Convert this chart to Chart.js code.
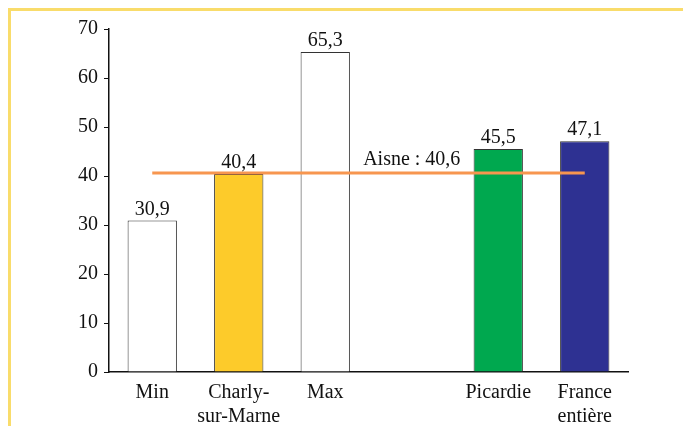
<!DOCTYPE html>
<html>
<head>
<meta charset="utf-8">
<script src="https://cdn.jsdelivr.net/npm/chart.js@4/dist/chart.umd.min.js"></script>
<style>
  html, body { margin: 0; padding: 0; background: #fff; }
  #frame {
    position: absolute; left: 8px; top: 8px; right: 0; bottom: 0;
    border-top: 3px solid #F9DC6B; border-left: 3px solid #F9DC6B;
  }
  #wrap { position: absolute; left: 0; top: 0; width: 683px; height: 426px; }
</style>
</head>
<body>
<div id="frame"></div>
<div id="wrap"><canvas id="c" width="683" height="426"></canvas></div>
<script>
// Categories (empty slot separates the commune figures from the regional ones)
const categories = ['Min', ['Charly-', 'sur-Marne'], 'Max', '', 'Picardie', ['France', 'entière']];
const values = [30.9, 40.4, 65.3, null, 45.5, 47.1];
const barColors = ['#FFFFFF', '#FDCB2A', '#FFFFFF', '#FFFFFF', '#00A84F', '#2E3192'];
const aisneLabel = 'Aisne';
const aisneValue = 40.6;
const yTicks = [0, 10, 20, 30, 40, 50, 60, 70];

const fmt = v => v.toFixed(1).replace('.', ',');
const FONT = '"Liberation Serif", "Times New Roman", serif';

const labelPlugin = {
  id: 'valueLabels',
  afterDatasetsDraw(chart) {
    const ctx = chart.ctx;
    ctx.save();
    ctx.fillStyle = '#111';
    ctx.textAlign = 'center';
    ctx.textBaseline = 'alphabetic';
    ctx.font = '20px ' + FONT;
    const bars = chart.getDatasetMeta(0);
    bars.data.forEach((el, i) => {
      if (values[i] == null) return;
      ctx.fillText(fmt(values[i]), el.x, el.y - 6);
    });
    // caption of the departmental line, centred on the empty slot
    const xs = chart.scales.x, ys = chart.scales.y;
    ctx.fillText(aisneLabel + ' : ' + fmt(aisneValue), xs.getPixelForValue(3), ys.getPixelForValue(aisneValue) - 8);
    ctx.restore();
  }
};

new Chart(document.getElementById('c'), {
  data: {
    labels: categories,
    datasets: [
      {
        type: 'bar',
        data: values,
        backgroundColor: barColors,
        borderColor: '#333',
        borderWidth: 1,
        barPercentage: 0.57,
        categoryPercentage: 1,
        order: 2
      },
      {
        type: 'line',
        data: categories.map(() => aisneValue),
        borderColor: '#F7964F',
        borderWidth: 3,
        pointRadius: 0,
        fill: false,
        order: 1
      }
    ]
  },
  options: {
    responsive: false,
    animation: false,
    layout: { padding: { left: 0, right: 55, top: 29, bottom: 0 } },
    plugins: { legend: { display: false }, tooltip: { enabled: false } },
    scales: {
      x: {
        grid: { display: false, drawTicks: false },
        border: { display: true, color: '#111', width: 1.5 },
        ticks: { color: '#111', padding: 9, font: { family: FONT, size: 20, lineHeight: 1.2 }, maxRotation: 0, autoSkip: false },
        afterFit(scale) { scale.height = 54; }
      },
      y: {
        min: 0, max: 70,
        afterBuildTicks(scale) { scale.ticks = yTicks.map(v => ({ value: v })); },
        grid: { drawOnChartArea: false, drawTicks: true, tickLength: 5, color: '#111', lineWidth: 1 },
        border: { display: true, color: '#111', width: 1.5 },
        ticks: { color: '#111', padding: 6, font: { family: FONT, size: 20 } },
        afterFit(scale) { scale.width = 109; }
      }
    }
  },
  plugins: [labelPlugin]
});
</script>
</body>
</html>
